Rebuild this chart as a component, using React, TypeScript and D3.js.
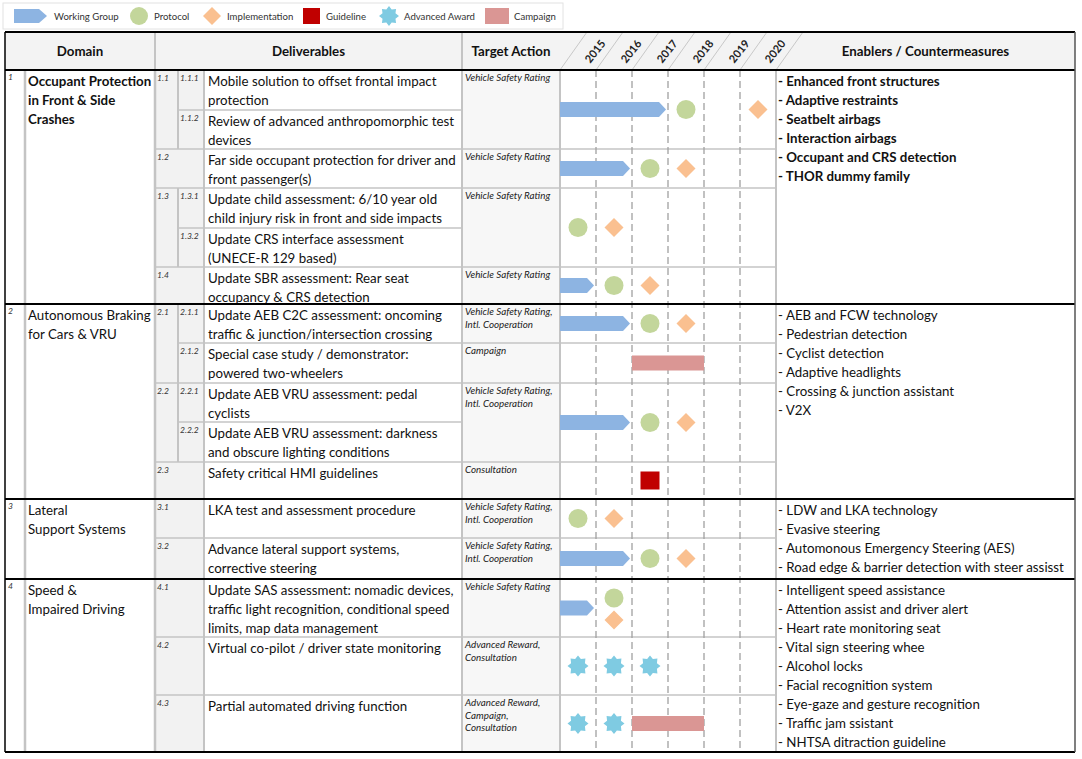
import React from "react";
import * as d3 from "d3";

// ---------------- DATA ----------------
const years = [2015, 2016, 2017, 2018, 2019, 2020];
const legendLabels = ["Working Group", "Protocol", "Implementation", "Guideline", "Advanced Award", "Campaign"];
const headerLabels = ["Domain", "Deliverables", "Target Action", "Enablers / Countermeasures"];

const sectionIds = ["1", "2", "3", "4"];
const domainNames = [
  ["Occupant Protection", "in Front & Side", "Crashes"],
  ["Autonomous Braking", "for Cars & VRU"],
  ["Lateral", "Support Systems"],
  ["Speed &", "Impaired Driving"],
];
const enablers = [
  ["Enhanced front structures", "Adaptive restraints", "Seatbelt airbags", "Interaction airbags", "Occupant and CRS detection", "THOR dummy family"],
  ["AEB and FCW technology", "Pedestrian detection", "Cyclist detection", "Adaptive headlights", "Crossing & junction assistant", "V2X"],
  ["LDW and LKA technology", "Evasive steering", "Automonous Emergency Steering (AES)", "Road edge & barrier detection with steer assisst"],
  ["Intelligent speed assistance", "Attention assist and driver alert", "Heart rate monitoring seat", "Vital sign steering whee", "Alcohol locks", "Facial recognition system", "Eye-gaze and gesture recognition", "Traffic jam ssistant", "NHTSA ditraction guideline"],
];

const deliverables = [
  { section: "1", group: "1.1", id: "1.1.1", tl: "1.1", lines: ["Mobile solution to offset frontal impact", "protection"] },
  { section: "1", group: "1.1", id: "1.1.2", tl: "1.1", lines: ["Review of advanced anthropomorphic test", "devices"] },
  { section: "1", group: "1.2", id: "", tl: "1.2", lines: ["Far side occupant protection for driver and", "front passenger(s)"] },
  { section: "1", group: "1.3", id: "1.3.1", tl: "1.3", lines: ["Update child assessment: 6/10 year old", "child injury risk in front and side impacts"] },
  { section: "1", group: "1.3", id: "1.3.2", tl: "1.3", lines: ["Update CRS interface assessment", "(UNECE-R 129 based)"] },
  { section: "1", group: "1.4", id: "", tl: "1.4", lines: ["Update SBR assessment: Rear seat", "occupancy & CRS detection"] },
  { section: "2", group: "2.1", id: "2.1.1", tl: "2.1.1", lines: ["Update AEB C2C assessment: oncoming", "traffic & junction/intersection crossing"] },
  { section: "2", group: "2.1", id: "2.1.2", tl: "2.1.2", lines: ["Special case study / demonstrator:", "powered two-wheelers"] },
  { section: "2", group: "2.2", id: "2.2.1", tl: "2.2", lines: ["Update AEB VRU assessment: pedal", "cyclists"] },
  { section: "2", group: "2.2", id: "2.2.2", tl: "2.2", lines: ["Update AEB VRU assessment: darkness", "and obscure lighting conditions"] },
  { section: "2", group: "2.3", id: "", tl: "2.3", lines: ["Safety critical HMI guidelines"] },
  { section: "3", group: "3.1", id: "", tl: "3.1", lines: ["LKA test and assessment procedure"] },
  { section: "3", group: "3.2", id: "", tl: "3.2", lines: ["Advance lateral support systems,", "corrective steering"] },
  { section: "4", group: "4.1", id: "", tl: "4.1", lines: ["Update SAS assessment: nomadic devices,", "traffic light recognition, conditional speed", "limits, map data management"] },
  { section: "4", group: "4.2", id: "", tl: "4.2", lines: ["Virtual co-pilot / driver state monitoring"] },
  { section: "4", group: "4.3", id: "", tl: "4.3", lines: ["Partial automated driving function"] },
];

const targetActions = [
  { tl: "1.1", lines: ["Vehicle Safety Rating"] },
  { tl: "1.2", lines: ["Vehicle Safety Rating"] },
  { tl: "1.3", lines: ["Vehicle Safety Rating"] },
  { tl: "1.4", lines: ["Vehicle Safety Rating"] },
  { tl: "2.1.1", lines: ["Vehicle Safety Rating,", "Intl. Cooperation"] },
  { tl: "2.1.2", lines: ["Campaign"] },
  { tl: "2.2", lines: ["Vehicle Safety Rating,", "Intl. Cooperation"] },
  { tl: "2.3", lines: ["Consultation"] },
  { tl: "3.1", lines: ["Vehicle Safety Rating,", "Intl. Cooperation"] },
  { tl: "3.2", lines: ["Vehicle Safety Rating,", "Intl. Cooperation"] },
  { tl: "4.1", lines: ["Vehicle Safety Rating"] },
  { tl: "4.2", lines: ["Advanced Reward,", "Consultation"] },
  { tl: "4.3", lines: ["Advanced Reward,", "Campaign,", "Consultation"] },
];

const workingGroup = [
  { tl: "1.1", start: 2014, end: 2017 },
  { tl: "1.2", start: 2014, end: 2016 },
  { tl: "1.4", start: 2014, end: 2015 },
  { tl: "2.1.1", start: 2014, end: 2016 },
  { tl: "2.2", start: 2014, end: 2016 },
  { tl: "3.2", start: 2014, end: 2016 },
  { tl: "4.1", start: 2014, end: 2015 },
];
const protocol = [
  { tl: "1.1", year: 2017.5 },
  { tl: "1.2", year: 2016.5 },
  { tl: "1.3", year: 2014.5 },
  { tl: "1.4", year: 2015.5 },
  { tl: "2.1.1", year: 2016.5 },
  { tl: "2.2", year: 2016.5 },
  { tl: "3.1", year: 2014.5 },
  { tl: "3.2", year: 2016.5 },
  { tl: "4.1", year: 2015.5 },
];
const implementation = [
  { tl: "1.1", year: 2019.5 },
  { tl: "1.2", year: 2017.5 },
  { tl: "1.3", year: 2015.5 },
  { tl: "1.4", year: 2016.5 },
  { tl: "2.1.1", year: 2017.5 },
  { tl: "2.2", year: 2017.5 },
  { tl: "3.1", year: 2015.5 },
  { tl: "3.2", year: 2017.5 },
  { tl: "4.1", year: 2015.5 },
];
const guideline = [{ tl: "2.3", year: 2016.5 }];
const advancedAward = [
  { tl: "4.2", year: 2014.5 },
  { tl: "4.2", year: 2015.5 },
  { tl: "4.2", year: 2016.5 },
  { tl: "4.3", year: 2014.5 },
  { tl: "4.3", year: 2015.5 },
];
const campaign = [
  { tl: "2.1.2", start: 2016, end: 2018 },
  { tl: "4.3", start: 2016, end: 2018 },
];

// ---------------- LAYOUT ----------------
const rowHeights = [40, 39, 39, 40, 39, 37, 39, 40, 39, 40, 37, 39, 41, 58, 58, 57];
const X = { left: 5, right: 1075, num: 25, dom: 155, sub: 178, del: 204, tgt: 462, tl: 560, en: 776 };
const Y = { headTop: 32, headBot: 70 };
const COLORS = {
  wg: "#8db4e2", protocol: "#c3d69b", impl: "#fac090", guide: "#c00000", award: "#7fcbe2", campaign: "#da9694",
  grid: "#c4c4c4", dash: "#a0a0a0", fillGray: "#f2f2f2", tgtFill: "#f7f7f7", text: "#111",
};
const FONT = "Lato, 'Open Sans', sans-serif";
const FS = 13.3;

function starPath(cx: number, cy: number, ro: number, ri: number, n = 8) {
  const pts: [number, number][] = d3.range(n * 2).map((i) => {
    const a = (Math.PI * i) / n - Math.PI / 2;
    const r = i % 2 === 0 ? ro : ri;
    return [cx + r * Math.cos(a), cy + r * Math.sin(a)];
  });
  return d3.line()(pts) + "Z";
}
function diamondPath(cx: number, cy: number, r: number) {
  return d3.line()([[cx, cy - r], [cx + r, cy], [cx, cy + r], [cx - r, cy]]) + "Z";
}
function arrowPath(x0: number, x1: number, cy: number, h: number, tip: number) {
  return d3.line()([[x0, cy - h / 2], [x1 - tip, cy - h / 2], [x1, cy], [x1 - tip, cy + h / 2], [x0, cy + h / 2]]) + "Z";
}

export default function App() {
  const x = d3.scaleLinear().domain([2014, 2020]).range([X.tl, X.en]);
  const tops: number[] = [];
  let acc = Y.headBot;
  rowHeights.forEach((h) => { tops.push(acc); acc += h; });
  const bottom = acc;
  const leaves = deliverables.map((d, i) => ({ ...d, top: tops[i], bot: tops[i] + rowHeights[i] }));

  const span = (key: "section" | "group" | "tl", val: string) => {
    const ls = leaves.filter((l) => l[key] === val);
    return { top: d3.min(ls, (l) => l.top)!, bot: d3.max(ls, (l) => l.bot)! };
  };
  const sections = sectionIds.map((s, i) => ({ id: s, ...span("section", s), domain: domainNames[i], en: enablers[i] }));
  const groups = Array.from(new Set(leaves.map((l) => l.group))).map((g) => ({
    id: g, ...span("group", g), hasSub: leaves.some((l) => l.group === g && l.id),
  }));
  const tlRows = targetActions.map((t) => ({ ...t, ...span("tl", t.tl) }));
  const tlMid = (tl: string) => { const r = tlRows.find((t) => t.tl === tl)!; return (r.top + r.bot) / 2; };

  const pointKeys = [...protocol.map((p) => ({ ...p, kind: "p" })), ...implementation.map((p) => ({ ...p, kind: "i" }))];
  const offset = (tl: string, year: number, kind: string) => {
    const same = pointKeys.filter((p) => p.tl === tl && p.year === year);
    if (same.length < 2) return 0;
    return same.findIndex((p) => p.kind === kind) === 0 ? -10 : 12;
  };

  const lineH = 19;
  const T0 = 13; // first text line centre offset from row top
  const small = { fontSize: 8.5, fontStyle: "italic", fill: "#333" } as const;
  const lg = { y: 16 };
  const lgText = { dominantBaseline: "middle", fontSize: 9.6, fill: "#333" } as const;

  return (
    <svg width={1082} height={759} style={{ position: "absolute", left: 0, top: 0, fontFamily: FONT }}>
      <rect x={0} y={0} width={1082} height={759} fill="#fff" />
      {/* Legend */}
      <rect x={3} y={3} width={560} height={26} fill="#fff" stroke="#e2e2e2" />
      <path d={arrowPath(14, 47, lg.y, 14, 8)} fill={COLORS.wg} />
      <text x={54} y={lg.y + 1.5} {...lgText}>{legendLabels[0]}</text>
      <circle cx={139} cy={lg.y} r={9} fill={COLORS.protocol} />
      <text x={154} y={lg.y + 1.5} {...lgText}>{legendLabels[1]}</text>
      <path d={diamondPath(212, lg.y, 9)} fill={COLORS.impl} />
      <text x={227} y={lg.y + 1.5} {...lgText}>{legendLabels[2]}</text>
      <rect x={303} y={lg.y - 8} width={17} height={16} fill={COLORS.guide} />
      <text x={326} y={lg.y + 1.5} {...lgText}>{legendLabels[3]}</text>
      <path d={starPath(389, lg.y, 10, 7)} fill={COLORS.award} />
      <text x={404} y={lg.y + 1.5} {...lgText}>{legendLabels[4]}</text>
      <rect x={485} y={lg.y - 8} width={24} height={16} fill={COLORS.campaign} />
      <text x={514} y={lg.y + 1.5} {...lgText}>{legendLabels[5]}</text>

      {/* Header */}
      <rect x={X.left} y={Y.headTop} width={X.right - X.left} height={Y.headBot - Y.headTop} fill="#f3f3f3" />
      {[X.dom, X.tgt].map((v) => (
        <line key={v} x1={v} x2={v} y1={Y.headTop} y2={Y.headBot} stroke={COLORS.grid} strokeWidth={2} />
      ))}
      {d3.range(7).map((i) => (
        <line key={i} x1={X.tl + 36 * i} y1={Y.headBot} x2={X.tl + 36 * i + 27} y2={Y.headTop} stroke="#c8c8c8" strokeWidth={1} />
      ))}
      {[(X.left + X.dom) / 2, (X.dom + X.tgt) / 2, (X.tgt + X.tl) / 2, (X.en + X.right) / 2].map((cx, i) => (
        <text key={"hd" + i} x={cx} y={53} textAnchor="middle" dominantBaseline="middle" fontSize={FS} fontWeight="bold" fill={COLORS.text}>{headerLabels[i]}</text>
      ))}
      {years.map((yr) => (
        <text key={yr} transform={`translate(${x(yr)},52) rotate(-52)`} textAnchor="middle" dominantBaseline="middle" fontSize={11} fontWeight="bold" fill="#222">{yr}</text>
      ))}

      {/* Body fills */}
      <rect x={X.dom} y={Y.headBot} width={X.del - X.dom} height={bottom - Y.headBot} fill={COLORS.fillGray} />
      <rect x={X.tgt} y={Y.headBot} width={X.tl - X.tgt} height={bottom - Y.headBot} fill={COLORS.tgtFill} />

      {/* Horizontal grid lines */}
      {leaves.map((l, i) => {
        const firstInGroup = i === 0 || leaves[i - 1].group !== l.group;
        const x0 = firstInGroup ? X.dom : X.sub;
        return <line key={"h" + i} x1={x0} x2={X.tgt} y1={l.top} y2={l.top} stroke={COLORS.grid} strokeWidth={1.5} />;
      })}
      {tlRows.map((r) => (
        <line key={"t" + r.tl} x1={X.tgt} x2={X.en} y1={r.top} y2={r.top} stroke={COLORS.grid} strokeWidth={1.5} />
      ))}
      {groups.filter((g) => g.hasSub).map((g) => (
        <line key={"v" + g.id} x1={X.sub} x2={X.sub} y1={g.top} y2={g.bot} stroke={COLORS.grid} strokeWidth={2} />
      ))}
      {years.slice(0, 5).map((yr) => (
        <line key={"d" + yr} x1={x(yr)} x2={x(yr)} y1={Y.headBot} y2={bottom} stroke={COLORS.dash} strokeWidth={1.3} strokeDasharray="7,4" />
      ))}
      {[X.num, X.dom, X.del, X.tgt, X.tl, X.en].map((v) => (
        <line key={"m" + v} x1={v} x2={v} y1={Y.headBot} y2={bottom} stroke={COLORS.grid} strokeWidth={v === X.num || v === X.dom ? 2.5 : 2} />
      ))}

      {/* Section texts */}
      {sections.map((s, si) => (
        <g key={"s" + s.id}>
          <text x={8} y={s.top + 8} dominantBaseline="middle" {...small}>{s.id}</text>
          {s.domain.map((t, k) => (
            <text key={k} x={28} y={s.top + T0 + k * lineH} dominantBaseline="middle" fontSize={FS} fontWeight={si === 0 ? "bold" : "normal"} fill={COLORS.text}>{t}</text>
          ))}
          {s.en.map((t, k) => (
            <text key={"e" + k} x={778} y={s.top + T0 + k * lineH} dominantBaseline="middle" fontSize={FS} fontWeight={si === 0 ? "bold" : "normal"} fill={COLORS.text}>{"- " + t}</text>
          ))}
        </g>
      ))}
      {groups.map((g) => (
        <text key={"g" + g.id} x={157} y={g.top + 9} dominantBaseline="middle" {...small}>{g.id}</text>
      ))}
      {leaves.map((l, i) => (
        <g key={"l" + i}>
          {l.id && <text x={180} y={l.top + 9} dominantBaseline="middle" {...small}>{l.id}</text>}
          {l.lines.map((t, k) => (
            <text key={k} x={208} y={l.top + T0 + k * lineH} dominantBaseline="middle" fontSize={FS} fill={COLORS.text}>{t}</text>
          ))}
        </g>
      ))}
      {tlRows.map((r) => (
        <g key={"ta" + r.tl}>
          {r.lines.map((t, k) => (
            <text key={k} x={465} y={r.top + 9 + k * 12.5} dominantBaseline="middle" fontSize={9.8} fontStyle="italic" fill="#222">{t}</text>
          ))}
        </g>
      ))}

      {/* Marks */}
      {workingGroup.map((w, i) => (
        <path key={"wg" + i} d={arrowPath(x(w.start), x(w.end) - 2, tlMid(w.tl), 15, 7)} fill={COLORS.wg} />
      ))}
      {campaign.map((c, i) => (
        <rect key={"c" + i} x={x(c.start)} y={tlMid(c.tl) - 7.5} width={x(c.end) - x(c.start)} height={15} fill={COLORS.campaign} />
      ))}
      {protocol.map((p, i) => (
        <circle key={"p" + i} cx={x(p.year)} cy={tlMid(p.tl) + offset(p.tl, p.year, "p")} r={9.5} fill={COLORS.protocol} />
      ))}
      {implementation.map((p, i) => (
        <path key={"i" + i} d={diamondPath(x(p.year), tlMid(p.tl) + offset(p.tl, p.year, "i"), 9.5)} fill={COLORS.impl} />
      ))}
      {guideline.map((g, i) => (
        <rect key={"gl" + i} x={x(g.year) - 9.5} y={tlMid(g.tl) - 9} width={19} height={18} fill={COLORS.guide} />
      ))}
      {advancedAward.map((a, i) => (
        <path key={"a" + i} d={starPath(x(a.year), tlMid(a.tl), 10.5, 7.5)} fill={COLORS.award} />
      ))}

      {/* Thick black lines */}
      {[Y.headTop, Y.headBot, ...sections.slice(1).map((s) => s.top), bottom].map((v, i) => (
        <line key={"k" + i} x1={X.left} x2={X.right} y1={v} y2={v} stroke="#000" strokeWidth={2} />
      ))}
      <line x1={X.left} x2={X.left} y1={Y.headTop} y2={bottom} stroke="#000" strokeWidth={1.5} />
      <line x1={X.right} x2={X.right} y1={Y.headTop} y2={bottom} stroke="#555" strokeWidth={1.5} />
    </svg>
  );
}
